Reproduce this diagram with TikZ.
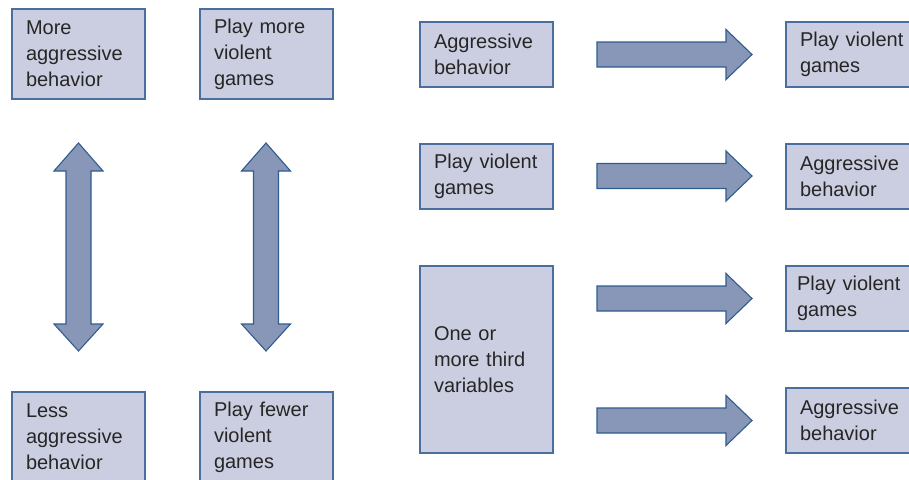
\documentclass[tikz,border=0pt]{standalone}
\usepackage{fontspec}
\setmainfont{Liberation Sans}
\definecolor{boxfill}{HTML}{CBCEE0}
\definecolor{boxline}{HTML}{4A6E9E}
\definecolor{arrfill}{HTML}{8896B8}
\definecolor{arrline}{HTML}{2F5D8F}
\begin{document}
\begin{tikzpicture}[x=1pt,y=-1pt,
  box/.style={draw=boxline, fill=boxfill, line width=1.2pt, rectangle,
    inner xsep=14pt, inner ysep=0pt, text width=105pt, align=left,
    font=\fontsize{20}{26}\selectfont, text=black!85},
  blockarrow/.style={draw=arrline, fill=arrfill, line width=1.1pt, line join=miter}]
\useasboundingbox (0,0) rectangle (909,479);
\fill[white] (0,0) rectangle (909,479);
% left column
\node[box, minimum height=90pt] (more) at (78.5,54) {More\\aggressive\\behavior};
\node[box, minimum height=90pt] (pmore) at (266.5,54) {Play more\\violent\\games};
\node[box, minimum height=90pt] (less) at (78.5,437) {Less\\aggressive\\behavior};
\node[box, minimum height=90pt] (pfew) at (266.5,437) {Play fewer\\violent\\games};
% vertical double arrows
\foreach \cx/\nm in {78.5/da1, 266/da2}{
  \path[blockarrow] (\cx,143) -- (\cx+24.5,171) -- (\cx+12.5,171) -- (\cx+12.5,324)
    -- (\cx+24.5,324) -- (\cx,351) -- (\cx-24.5,324) -- (\cx-12.5,324)
    -- (\cx-12.5,171) -- (\cx-24.5,171) -- cycle;
}
% right side boxes
\node[box, minimum height=65pt] (ab1) at (486.5,54.5) {Aggressive\\behavior};
\node[box, minimum height=65pt] (pv1) at (852.5,54.5) {Play violent\\games};
\node[box, minimum height=65pt] (pv2) at (486.5,176.5) {Play violent\\games};
\node[box, minimum height=65pt] (ab2) at (852.5,176.5) {Aggressive\\behavior};
\node[box, minimum height=187pt] (third) at (486.5,359.5) {One or\\more third\\variables};
\node[box, minimum height=65pt, inner xsep=11pt, text width=111pt] (pv3) at (852.5,298.5) {Play violent\\games};
\node[box, minimum height=65pt] (ab3) at (852.5,420.5) {Aggressive\\behavior};
% horizontal block arrows
\foreach \cy in {54.5, 176, 298.5, 420.5}{
  \path[blockarrow] (597,\cy-12.5) -- (726,\cy-12.5) -- (726,\cy-25) -- (752,\cy)
    -- (726,\cy+25) -- (726,\cy+12.5) -- (597,\cy+12.5) -- cycle;
}
\end{tikzpicture}
\end{document}
